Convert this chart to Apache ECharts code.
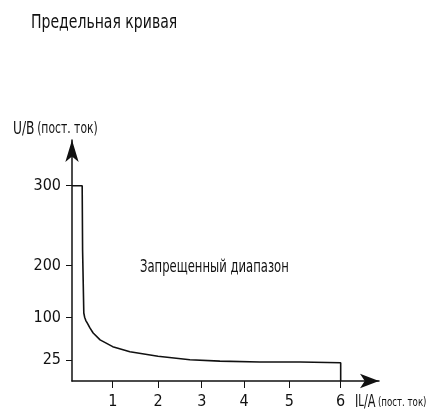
<!DOCTYPE html>
<html>
<head>
<meta charset="utf-8">
<script src="https://cdn.jsdelivr.net/npm/echarts@6/dist/echarts.min.js"></script>
<style>
  html, body { margin: 0; padding: 0; background: #fff; }
  #chart { width: 431px; height: 413px; }
</style>
</head>
<body>
<div id="chart"></div>
<script>
// предельная кривая: ток (А) -> напряжение (В)
const currentA = [0, 0.25, 0.26, 0.29, 0.31, 0.34, 0.38, 0.44, 0.52, 0.69, 1.0, 1.38, 2.0, 2.73, 3.43, 4.35, 5.21, 6, 6];
const voltageV = [300, 300, 220, 109, 101, 95, 90, 82, 73, 61, 49, 40, 32, 26, 24, 23, 23, 22, 0];

// подписи делений
const xTicks = [1, 2, 3, 4, 5, 6];
const yTicks = [25, 100, 200, 300];

// схематичные (нелинейные) шкалы: значение -> доля длины оси
const xStops = [0, 1, 2, 3, 4, 5, 6];
const xStopPos = [0, 0.1326, 0.2801, 0.4225, 0.5603, 0.7078, 0.8752];
const yStops = [0, 25, 100, 200, 300];
const yStopPos = [0, 0.0859, 0.2627, 0.4784, 0.8104];

function toPos(v, stops, pos) {
  for (let i = 1; i < stops.length; i++) {
    if (v <= stops[i]) {
      const t = (v - stops[i - 1]) / (stops[i] - stops[i - 1]);
      return pos[i - 1] + t * (pos[i] - pos[i - 1]);
    }
  }
  const n = stops.length - 1;
  return pos[n] + (v - stops[n]) * (pos[n] - pos[n - 1]) / (stops[n] - stops[n - 1]);
}

const xTickPos = xTicks.map(v => toPos(v, xStops, xStopPos));
const yTickPos = yTicks.map(v => toPos(v, yStops, yStopPos));
const curve = currentA.map((c, i) => [toPos(c, xStops, xStopPos), toPos(voltageV[i], yStops, yStopPos)]);

function lookup(v, positions, labels) {
  const i = positions.findIndex(p => Math.abs(p - v) < 1e-6);
  return i >= 0 ? String(labels[i]) : '';
}

const FONT = '"DejaVu Sans Condensed", "DejaVu Sans", sans-serif';

let myChart = echarts.init(document.getElementById('chart'));
myChart.setOption({
  animation: false,
  backgroundColor: '#fff',
  grid: {
    left: 72, top: 140, right: 52, bottom: 32,
    outerBoundsMode: 'none'
  },
  xAxis: {
    type: 'value', min: 0, max: 1,
    splitLine: { show: false },
    axisLine: {
      lineStyle: { color: '#111', width: 1.5 },
      symbol: ['none', 'arrow'],
      symbolSize: [11, 19]
    },
    axisTick: { customValues: xTickPos, length: 7, lineStyle: { color: '#111' } },
    axisLabel: {
      customValues: xTickPos,
      margin: 13,
      color: '#111',
      fontSize: 16,
      fontFamily: FONT,
      formatter: v => lookup(v, xTickPos, xTicks)
    }
  },
  yAxis: {
    type: 'value', min: 0, max: 1,
    splitLine: { show: false },
    axisLine: {
      lineStyle: { color: '#111', width: 1.5 },
      symbol: ['none', 'arrow'],
      symbolSize: [10, 22]
    },
    axisTick: { customValues: yTickPos, length: 6, lineStyle: { color: '#111' } },
    axisLabel: {
      customValues: yTickPos,
      margin: 11,
      color: '#111',
      fontSize: 16,
      fontFamily: FONT,
      formatter: v => lookup(v, yTickPos, yTicks)
    }
  },
  series: [{
    type: 'line',
    data: curve,
    showSymbol: false,
    lineStyle: { color: '#111', width: 1.6 }
  }],
  graphic: [
    {
      type: 'text', left: 31, top: 13, scaleX: 0.78,
      style: { text: 'Предельная кривая', fill: '#111', fontSize: 20, fontFamily: FONT }
    },
    {
      type: 'text', left: 13, top: 121, scaleX: 0.8,
      style: {
        text: '{a|U/B} {b|(пост. ток)}',
        rich: {
          a: { fontSize: 17, fill: '#111', fontFamily: FONT },
          b: { fontSize: 15, fill: '#111', fontFamily: FONT }
        }
      }
    },
    {
      type: 'text', left: 140, top: 259, scaleX: 0.76,
      style: { text: 'Запрещенный диапазон', fill: '#111', fontSize: 17, fontFamily: FONT }
    },
    {
      type: 'text', left: 355, top: 394, scaleX: 0.74,
      style: {
        text: '{a|I}{s|L}{a|/A} {b|(пост. ток)}',
        rich: {
          a: { fontSize: 17, fill: '#111', fontFamily: FONT },
          s: { fontSize: 15, fill: '#111', fontFamily: FONT },
          b: { fontSize: 13, fill: '#111', fontFamily: FONT }
        }
      }
    }
  ]
});
</script>
</body>
</html>
